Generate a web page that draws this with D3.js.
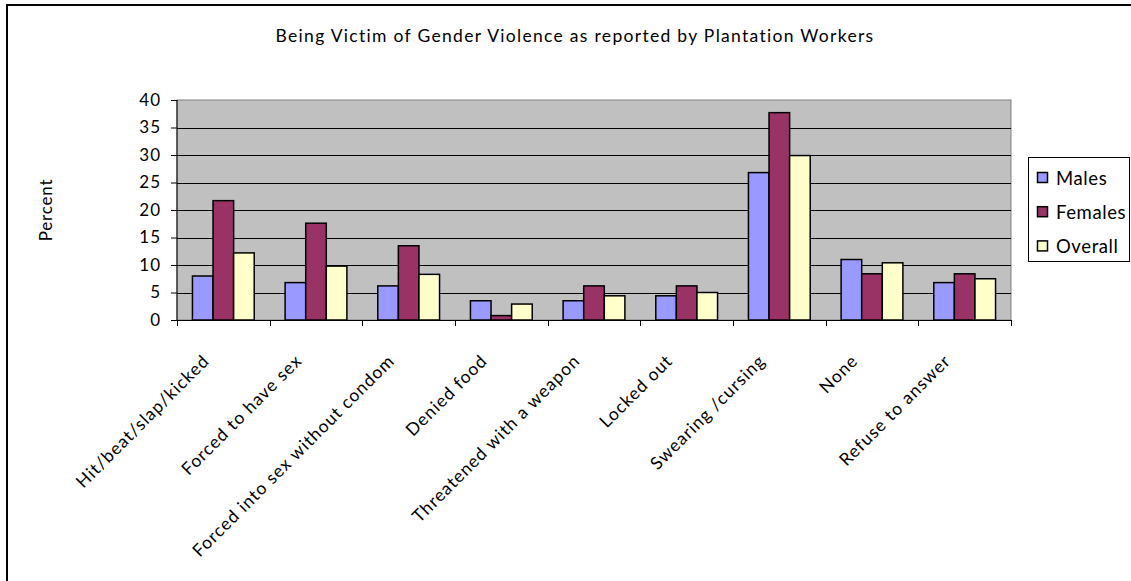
<!DOCTYPE html>
<html>
<head>
<meta charset="utf-8">
<script src="https://cdn.jsdelivr.net/npm/d3@7"></script>
<style>
  html, body { margin: 0; padding: 0; background: #fff; overflow: hidden; }
  svg { display: block; }
  text { font-family: Lato, "Open Sans", sans-serif; fill: #000; }
</style>
</head>
<body>
<svg id="chart" width="1131" height="581"></svg>
<script>
// Survey results, percent of respondents per category
const categories = [
  "Hit/beat/slap/kicked",
  "Forced to have sex",
  "Forced into sex without condom",
  "Denied food",
  "Threatened with a weapon",
  "Locked out",
  "Swearing /cursing",
  "None",
  "Refuse to answer"
];
const seriesNames = ["Males", "Females", "Overall"];
const males   = [8.0, 6.8, 6.2, 3.5, 3.5, 4.4, 26.8, 11.0, 6.8];
const females = [21.7, 17.6, 13.5, 0.8, 6.2, 6.2, 37.7, 8.4, 8.4];
const overall = [12.2, 9.8, 8.3, 2.9, 4.4, 5.0, 29.9, 10.4, 7.5];
const yTicks  = [0, 5, 10, 15, 20, 25, 30, 35, 40];
const title   = "Being Victim of Gender Violence as reported by Plantation Workers";
const yTitle  = "Percent";

const seriesValues = [males, females, overall];
const colors = ["#9999FF", "#993366", "#FFFFCC"];

const svg = d3.select("#chart");

// outer chart frame (top and left edges fall inside the canvas)
svg.append("path")
  .attr("d", "M7,590V5H1140")
  .attr("fill", "none").attr("stroke", "#000").attr("stroke-width", 2);

const plot = { left: 177, right: 1011, top: 100, bottom: 320 };

const x0 = d3.scaleBand().domain(categories).range([plot.left, plot.right]).padding(0);
const x1 = d3.scaleBand().domain(seriesNames).range([0, x0.bandwidth()])
  .paddingInner(0).paddingOuter(0.75);
const y = d3.scaleLinear().domain([0, 40]).range([plot.bottom, plot.top]);

// plot area background
svg.append("rect")
  .attr("x", plot.left).attr("y", plot.top)
  .attr("width", plot.right - plot.left).attr("height", plot.bottom - plot.top)
  .attr("fill", "#C0C0C0").attr("stroke", "#808080").attr("stroke-width", 1);

// horizontal gridlines
svg.append("g")
  .selectAll("line")
  .data(yTicks.filter(d => d > 0 && d < 40))
  .join("line")
  .attr("x1", plot.left).attr("x2", plot.right)
  .attr("y1", d => Math.round(y(d)) + 0.5).attr("y2", d => Math.round(y(d)) + 0.5)
  .attr("stroke", "#000").attr("stroke-width", 1);

// bars
const rows = categories.map((c, i) => ({ c, vals: seriesNames.map((s, k) => ({ s, v: seriesValues[k][i], k })) }));
svg.append("g")
  .selectAll("g")
  .data(rows)
  .join("g")
  .attr("transform", d => `translate(${x0(d.c)},0)`)
  .selectAll("rect")
  .data(d => d.vals)
  .join("rect")
  .attr("x", d => x1(d.s))
  .attr("width", x1.bandwidth())
  .attr("y", d => y(d.v))
  .attr("height", d => y(0) - y(d.v))
  .attr("fill", d => colors[d.k])
  .attr("stroke", "#000")
  .attr("stroke-width", 1.5);

// y axis
const yAxis = d3.axisLeft(y).tickValues(yTicks).tickSize(6).tickPadding(10).tickFormat(d3.format("d"));
const gy = svg.append("g").attr("transform", `translate(${plot.left},0)`).call(yAxis);
gy.select(".domain").attr("stroke", "#000").attr("d", `M0,${plot.top}V${plot.bottom}`);
gy.selectAll(".tick line").attr("stroke", "#000");
gy.selectAll(".tick text").attr("font-size", 17).attr("font-family", "Lato, 'Open Sans', sans-serif").attr("letter-spacing", 1);

// x axis with ticks on category boundaries
svg.append("line")
  .attr("x1", plot.left).attr("x2", plot.right)
  .attr("y1", plot.bottom + 0.5).attr("y2", plot.bottom + 0.5)
  .attr("stroke", "#000");
const boundaries = categories.map(c => x0(c)).concat([plot.right]);
svg.append("g")
  .selectAll("line")
  .data(boundaries)
  .join("line")
  .attr("x1", d => Math.round(d) + 0.5).attr("x2", d => Math.round(d) + 0.5)
  .attr("y1", plot.bottom).attr("y2", plot.bottom + 6)
  .attr("stroke", "#000");

// rotated category labels
svg.append("g")
  .selectAll("text")
  .data(categories)
  .join("text")
  .attr("transform", d => `translate(${x0(d) + x0.bandwidth() / 2 - 13},362) rotate(-45)`)
  .attr("text-anchor", "end")
  .attr("font-size", 17.5)
  .attr("letter-spacing", 1)
  .text(d => d);

// titles
svg.append("text")
  .attr("x", 575).attr("y", 42)
  .attr("text-anchor", "middle")
  .attr("font-size", 17.5)
  .attr("letter-spacing", 1.3)
  .text(title);

svg.append("text")
  .attr("transform", "translate(52,210) rotate(-90)")
  .attr("text-anchor", "middle")
  .attr("font-size", 17)
  .attr("letter-spacing", 0.8)
  .text(yTitle);

// legend
const legend = svg.append("g");
legend.append("rect")
  .attr("x", 1028.5).attr("y", 157.5)
  .attr("width", 101).attr("height", 104)
  .attr("fill", "#fff").attr("stroke", "#000").attr("stroke-width", 1);
const items = legend.selectAll("g.item")
  .data(seriesNames)
  .join("g")
  .attr("class", "item")
  .attr("transform", (d, i) => `translate(0,${i * 34.2})`);
items.append("rect")
  .attr("x", 1037.5).attr("y", 172.5)
  .attr("width", 10).attr("height", 10)
  .attr("fill", (d, i) => colors[i])
  .attr("stroke", "#000").attr("stroke-width", 1.5);
items.append("text")
  .attr("x", 1056).attr("y", 185)
  .attr("font-size", 18.5)
  .attr("letter-spacing", 0.6)
  .text(d => d);
</script>
</body>
</html>
